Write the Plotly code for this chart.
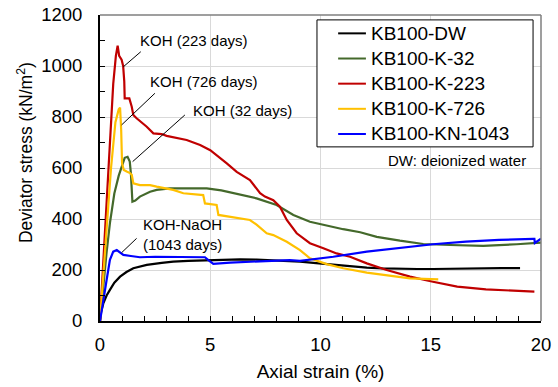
import plotly.graph_objects as go

# ---------------- data ----------------
dw_x = [0, 0.05, 0.15, 0.3, 0.45, 0.65, 0.91, 1.2, 1.51, 2.12, 2.8, 3.32, 4.0, 4.84, 5.6, 6.35,
        7.1, 7.86, 8.6, 9.07, 9.8, 10.58, 11.3, 12.1, 12.8, 13.6, 14.4, 15.1, 15.9, 16.6, 17.4, 18.2, 19.05]
dw_y = [0, 35, 69, 100, 122, 150, 174, 192, 207, 220, 228, 233, 236, 239, 241, 242,
        241, 239, 235, 233, 227, 220, 214, 209, 206, 204, 204, 204, 205, 207, 207, 207, 207]

k32_x = [0, 0.15, 0.3, 0.45, 0.65, 0.85, 1.0, 1.12, 1.25, 1.35, 1.4, 1.44, 1.47, 1.6, 1.81, 2.27,
         2.57, 3.17, 3.9, 4.84, 5.5, 6.05, 7.1, 8.01, 8.77, 9.52, 10.43, 11.03, 11.8, 12.55, 13.6,
         14.66, 15.87, 17.38, 18.9, 20]
k32_y = [0, 140, 270, 384, 500, 570, 610, 640, 644, 625, 580, 520, 468, 472, 488, 507,
         514, 520, 520, 520, 512, 501, 481, 455, 416, 389, 370, 360, 348, 330, 315,
         302, 298, 295, 301, 307]

k223_x = [0, 0.1, 0.2, 0.3, 0.45, 0.6, 0.72, 0.8, 0.87, 0.98, 1.05, 1.1, 1.12, 1.33, 1.44, 1.51,
          1.66, 2.12, 2.42, 2.8, 3.02, 3.93, 4.54, 5.0, 5.75, 6.2, 6.8, 7.26, 7.48, 7.86, 8.16,
          8.47, 8.92, 9.52, 10.13, 10.73, 11.34, 12.1, 13.0, 14.06, 15.1, 16.2, 17.5, 18.7, 19.7]
k223_y = [0, 160, 330, 500, 740, 930, 1040, 1080, 1040, 1025, 1000, 940, 873, 873, 840, 808,
          795, 762, 736, 733, 726, 710, 690, 670, 618, 585, 553, 501, 488, 474, 448,
          396, 344, 305, 285, 265, 252, 226, 200, 174, 154, 135, 124, 119, 115]

k726_x = [0, 0.15, 0.3, 0.5, 0.7, 0.85, 0.91, 0.96, 1.0, 1.08, 1.21, 1.36, 1.44, 1.51, 1.81, 2.27,
          2.57, 3.32, 3.78, 4.08, 4.68, 4.76, 5.29, 5.37, 5.9, 6.35, 6.8, 7.1, 7.56, 7.86, 8.31,
          8.47, 9.07, 9.52, 10.28, 11.03, 12.1, 13.0, 14.06, 15.34]
k726_y = [0, 180, 380, 600, 780, 830, 837, 750, 618, 592, 586, 580, 573, 540, 533, 533,
          527, 514, 501, 498, 494, 461, 455, 416, 409, 403, 396, 378, 344, 337, 318,
          311, 278, 246, 223, 207, 190, 180, 167, 163]

kn_x = [0, 0.1, 0.3, 0.45, 0.6, 0.76, 0.9, 1.06, 1.4, 1.81, 2.5, 3.32, 4.0, 4.76, 4.9, 5.14,
        5.9, 7.1, 8.6, 9.07, 10.58, 12.1, 13.6, 15.1, 16.6, 18.1, 19.65, 19.7, 19.72, 20]
kn_y = [0, 60, 161, 240, 272, 278, 268, 259, 255, 250, 252, 252, 252, 250, 240, 224,
        229, 233, 239, 236, 252, 272, 287, 301, 311, 318, 322, 322, 306, 323]

series_names = ["KB100-DW", "KB100-K-32", "KB100-K-223", "KB100-K-726", "KB100-KN-1043"]
series_x = [dw_x, k32_x, k223_x, k726_x, kn_x]
series_y = [dw_y, k32_y, k223_y, k726_y, kn_y]
series_colors = ["#000000", "#44692B", "#C00000", "#FFC000", "#0000FF"]

# label texts, anchor (left, middle) and leader line (from, to) in data units
label_texts = ["KOH (223 days)", "KOH (726 days)", "KOH (32 days)", "KOH-NaOH<br>(1043 days)"]
label_pos = [(1.74, 1099), (2.19, 938), (4.11, 824), (1.85, 339)]
leader_from = [(1.85, 1056), (2.49, 893), (3.85, 808), (1.66, 324)]
leader_to = [(1.06, 997), (0.98, 769), (1.48, 625), (0.98, 268)]

note_text = "DW: deionized water"
note_pos = (19.42, 631)

FONT = "Liberation Sans, Arial, sans-serif"

fig = go.Figure()
for name, xs, ys, c in zip(series_names, series_x, series_y, series_colors):
    fig.add_trace(go.Scatter(x=xs, y=ys, mode="lines", name=name, showlegend=False,
                             line=dict(color=c, width=2.2)))

shapes = []
for (x0, y0), (x1, y1) in zip(leader_from, leader_to):
    shapes.append(dict(type="line", xref="x", yref="y", x0=x0, y0=y0, x1=x1, y1=y1,
                       line=dict(color="#000000", width=1)))
# top and right frame lines (gray)
shapes.append(dict(type="line", xref="paper", yref="paper", x0=0, y0=1, x1=1, y1=1,
                   line=dict(color="#7f7f7f", width=1.5)))
shapes.append(dict(type="line", xref="paper", yref="paper", x0=1, y0=0, x1=1, y1=1,
                   line=dict(color="#7f7f7f", width=1.5)))

annotations = []
for t, (x, y) in zip(label_texts, label_pos):
    annotations.append(dict(text=t, x=x, y=y, xref="x", yref="y", xanchor="left",
                            yanchor="middle", align="left", showarrow=False,
                            font=dict(family=FONT, size=15, color="#000000")))
annotations.append(dict(text=note_text, x=note_pos[0], y=note_pos[1], xref="x", yref="y",
                        xanchor="right", yanchor="middle", showarrow=False,
                        font=dict(family=FONT, size=15, color="#000000")))
annotations.append(dict(text="Deviator stress (kN/m<sup>2</sup>)", x=-0.17, y=0.549,
                        xref="paper", yref="paper", textangle=-90, showarrow=False,
                        xanchor="center", yanchor="middle",
                        font=dict(family=FONT, size=17.5, color="#000000")))

# legend box (paper coordinates)
leg_box = dict(x0=0.492, x1=0.982, y0=0.569, y1=0.984)
leg_line_x = (0.540, 0.603)
leg_text_x = 0.610
leg_top_row = 0.940
leg_row_step = 0.0822
shapes.append(dict(type="rect", xref="paper", yref="paper", layer="above",
                   fillcolor="white", line=dict(color="#000000", width=1), **leg_box))
for i, (name, c) in enumerate(zip(series_names, series_colors)):
    yy = leg_top_row - i * leg_row_step
    shapes.append(dict(type="line", xref="paper", yref="paper", layer="above",
                       x0=leg_line_x[0], x1=leg_line_x[1], y0=yy, y1=yy,
                       line=dict(color=c, width=2)))
    annotations.append(dict(text=name, x=leg_text_x, y=yy, xref="paper", yref="paper",
                            xanchor="left", yanchor="middle", showarrow=False,
                            font=dict(family=FONT, size=19, color="#000000")))

fig.update_layout(
    width=558, height=387,
    margin=dict(l=100, r=17, t=15, b=66, autoexpand=False),
    paper_bgcolor="white", plot_bgcolor="white",
    font=dict(family=FONT, color="#000000"),
    showlegend=False,
    shapes=shapes, annotations=annotations,
)

fig.update_xaxes(range=[0, 20], dtick=5, tick0=0, automargin=False,
                 showgrid=True, gridcolor="#d9d9d9", gridwidth=1, zeroline=False,
                 showline=True, linecolor="#000000", linewidth=2,
                 ticks="inside", ticklen=5, tickwidth=1, tickcolor="#000000",
                 minor=dict(dtick=1, ticks="inside", ticklen=5, tickwidth=1,
                            tickcolor="#000000", showgrid=False),
                 tickfont=dict(family=FONT, size=18.5, color="#000000"),
                 ticklabelstandoff=6,
                 title=dict(text="Axial strain (%)", standoff=10,
                            font=dict(family=FONT, size=19, color="#000000")))
fig.update_yaxes(range=[0, 1200], dtick=200, tick0=0, automargin=False,
                 showgrid=True, gridcolor="#d9d9d9", gridwidth=1, zeroline=False,
                 showline=True, linecolor="#000000", linewidth=2,
                 ticks="inside", ticklen=5, tickwidth=1, tickcolor="#000000",
                 minor=dict(dtick=100, ticks="inside", ticklen=5, tickwidth=1,
                            tickcolor="#000000", showgrid=False),
                 tickfont=dict(family=FONT, size=18.5, color="#000000"),
                 ticklabelstandoff=12)

fig.write_html("out.html")
